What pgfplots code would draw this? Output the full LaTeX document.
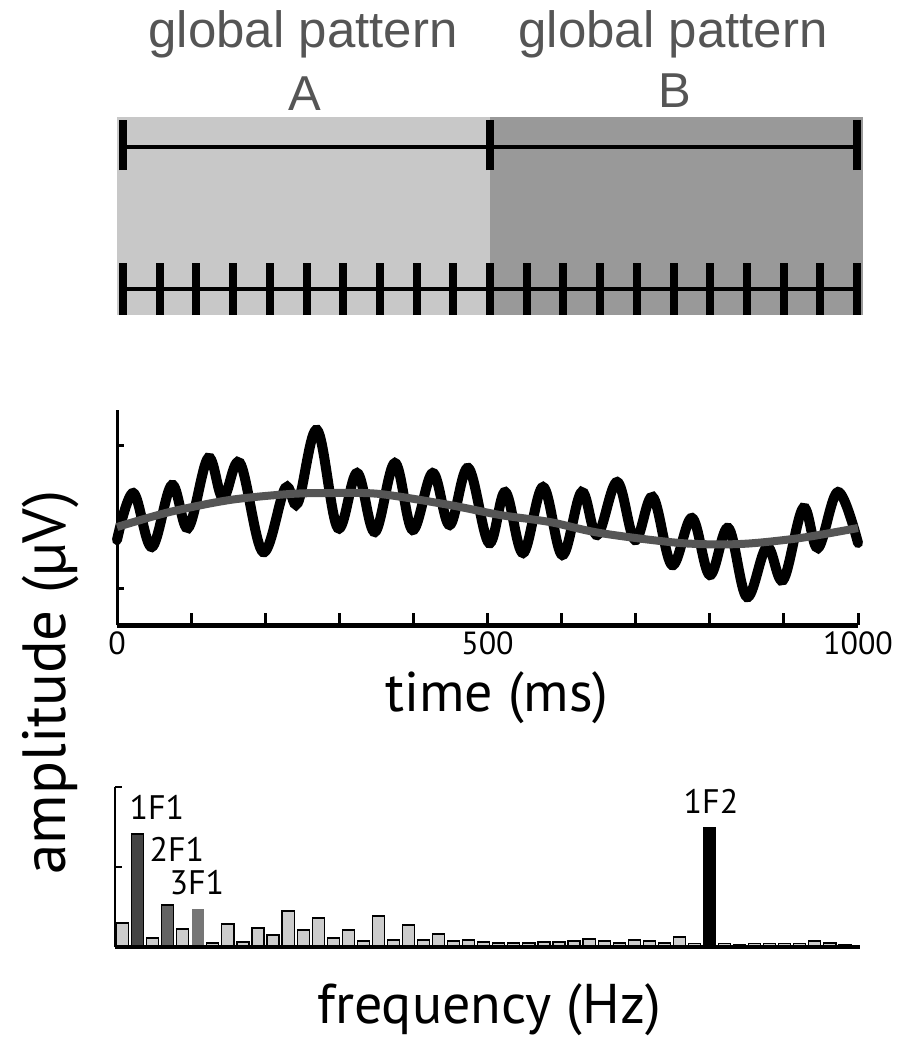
\documentclass[border=0pt]{standalone}
\usepackage{fontspec}
\setmainfont{PT Sans}
\newfontfamily\arialfont{Liberation Sans}
\usepackage{pgfplots}
\pgfplotsset{compat=1.18}
\definecolor{lightA}{HTML}{C8C8C8}
\definecolor{darkB}{HTML}{999999}
\definecolor{titlegray}{HTML}{555555}
\definecolor{curvegray}{HTML}{555555}
\definecolor{barlight}{HTML}{CCCCCC}
\definecolor{bar1}{HTML}{444444}
\definecolor{bar2}{HTML}{636363}
\definecolor{bar3}{HTML}{767676}
\begin{document}
\begin{tikzpicture}
\useasboundingbox (0,0) rectangle (448.5pt,-525pt);

% ---------- top panel ----------
\begin{axis}[at={(58.5pt,-157.5pt)}, anchor=south west, scale only axis,
  width=373pt, height=99pt, xmin=-8.2, xmax=1008, ymin=0, ymax=1,
  hide axis, clip=false, unbounded coords=jump]
\addplot[fill=lightA, draw=none] coordinates {(-8.2,0)(500,0)(500,1)(-8.2,1)};
\addplot[fill=darkB, draw=none] coordinates {(500,0)(1008,0)(1008,1)(500,1)};
\addplot[black, line width=1.75pt] coordinates {(0,0.848)(1000,0.848)};
\addplot[black, line width=1.75pt] coordinates {(0,0.131)(1000,0.131)};
\addplot[black, line width=4pt] coordinates {(0,0.732)(0,0.985)(0,nan)
  (500,0.732)(500,0.985)(500,nan)(1000,0.732)(1000,0.985)};
\addplot[black, line width=4pt] coordinates {
  (0,0)(0,0.263)(0,nan) (50,0)(50,0.263)(50,nan) (100,0)(100,0.263)(100,nan)
  (150,0)(150,0.263)(150,nan) (200,0)(200,0.263)(200,nan) (250,0)(250,0.263)(250,nan)
  (300,0)(300,0.263)(300,nan) (350,0)(350,0.263)(350,nan) (400,0)(400,0.263)(400,nan)
  (450,0)(450,0.263)(450,nan) (500,0)(500,0.263)(500,nan) (550,0)(550,0.263)(550,nan)
  (600,0)(600,0.263)(600,nan) (650,0)(650,0.263)(650,nan) (700,0)(700,0.263)(700,nan)
  (750,0)(750,0.263)(750,nan) (800,0)(800,0.263)(800,nan) (850,0)(850,0.263)(850,nan)
  (900,0)(900,0.263)(900,nan) (950,0)(950,0.263)(950,nan) (1000,0)(1000,0.263)};
\end{axis}

\node[anchor=base, text=titlegray, font=\arialfont\fontsize{25.5}{25.5}\selectfont] at (151.5pt,-23.5pt) {global pattern};
\node[anchor=base, text=titlegray, font=\arialfont\fontsize{24.5}{24.5}\selectfont] at (152.5pt,-55pt) {A};
\node[anchor=base, text=titlegray, font=\arialfont\fontsize{25.5}{25.5}\selectfont] at (336.5pt,-23.5pt) {global pattern};
\node[anchor=base, text=titlegray, font=\arialfont\fontsize{24.5}{24.5}\selectfont] at (337.5pt,-53.5pt) {B};

% ---------- middle panel ----------
\begin{axis}[at={(58.5pt,-312.5pt)}, anchor=south west, scale only axis,
  width=370.5pt, height=107.5pt, xmin=0, xmax=1000, ymin=0, ymax=215,
  axis x line=bottom, axis y line=left, axis line style={-},
  x axis line style={line width=2.5pt}, y axis line style={line width=1.5pt},
  tick align=inside, xtick={0,100,...,1000}, xticklabels={0,,,,,500,,,,,1000},
  major tick length=6pt, xtick style={line width=1.5pt, black},
  ytick=\empty, extra y ticks={37,180}, extra y tick labels={},
  extra y tick style={major tick length=3.5pt, tick style={line width=1.5pt, black}},
  xticklabel style={font=\fontsize{16}{16}\selectfont},
  clip=false]
\addplot[black, line width=5pt, smooth, tension=0.6, line cap=round] coordinates {
 (0,85)(22,132)(47,78)(74,140)(96,97)(123,167)(143,127)(166,162)(197,73)(227,137)
 (244,122)(270,195)(298,97)(324,152)(348,93)(375,162)(399,95)(426,152)(449,100)
 (474,157)(502,82)(524,133)(548,72)(575,138)(601,70)(627,133)(648,90)(675,143)
 (699,85)(723,128)(749,60)(776,107)(800,50)(825,97)(850,28)(877,78)(899,45)
 (926,117)(946,77)(973,133)(1000,82)};
\addplot[curvegray, line width=4pt, smooth] coordinates {
 (0,98)(71,113)(152,125)(233,131)(291,132)(355,131)(449,120)(517,110)(584,103)
 (652,92)(760,82)(841,81)(922,87)(1000,97)};
\end{axis}

\node[anchor=base, font=\fontsize{28}{28}\selectfont] at (248.5pt,-355.5pt) {time (ms)};
\node[anchor=base, rotate=90, font=\fontsize{30.5}{30.5}\selectfont] at (32.5pt,-341.25pt) {amplitude (µV)};

% ---------- bottom panel ----------
\begin{axis}[at={(57.5pt,-473.5pt)}, anchor=south west, scale only axis,
  width=372.5pt, height=80pt, xmin=0.5, xmax=50, ymin=0, ymax=160,
  axis x line=bottom, axis y line=left, axis line style={-},
  x axis line style={line width=2pt}, y axis line style={line width=1.25pt},
  xtick=\empty, ytick={80,160}, yticklabels={}, tick align=inside,
  major tick length=3.5pt, ytick style={line width=1.25pt, black},
  axis on top, clip=false]
\addplot[ybar, bar width=0.8, bar shift=0pt, fill=barlight, draw=black, line width=0.6pt] coordinates {
 (1,24)(3,9)(5,18)(7,4)(8,23)(9,5)(10,19)(11,12)(12,36)(13,17)(14,29)(15,9)
 (16,17)(17,6)(18,31)(19,7)(20,22)(21,7)(22,13)(23,6)(24,7)(25,5)(26,4)(27,4)
 (28,4)(29,5)(30,5)(31,6)(32,8)(33,6)(34,4)(35,7)(36,6)(37,4)(38,10)(39,3.5)
 (41,3.5)(42,2)(43,3.5)(44,3.5)(45,3.5)(46,3.5)(47,6)(48,4)(49,2)};
\addplot[ybar, bar width=0.8, bar shift=0pt, fill=bar1, draw=black, line width=0.6pt] coordinates {(2,113)};
\addplot[ybar, bar width=0.8, bar shift=0pt, fill=bar2, draw=black, line width=0.6pt] coordinates {(4,42)};
\addplot[ybar, bar width=0.8, bar shift=0pt, fill=bar3, draw=none] coordinates {(6,38)};
\addplot[ybar, bar width=0.8, bar shift=0pt, fill=black, draw=black] coordinates {(40,120)};
\node[anchor=base, font=\fontsize{17}{17}\selectfont] at (axis cs:3.28,128) {1F1};
\node[anchor=base, font=\fontsize{17}{17}\selectfont] at (axis cs:4.61,86) {2F1};
\node[anchor=base, font=\fontsize{17}{17}\selectfont] at (axis cs:5.94,53) {3F1};
\node[anchor=base, font=\fontsize{17}{17}\selectfont] at (axis cs:40.1,134) {1F2};
\end{axis}

\node[anchor=base, font=\fontsize{28}{28}\selectfont] at (244.5pt,-511.5pt) {frequency (Hz)};
\end{tikzpicture}
\end{document}
